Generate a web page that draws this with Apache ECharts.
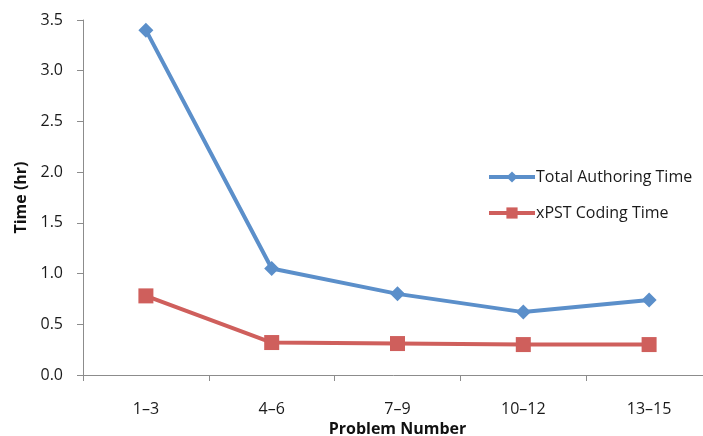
<!DOCTYPE html>
<html>
<head>
<meta charset="utf-8">
<script src="https://cdn.jsdelivr.net/npm/echarts@6/dist/echarts.min.js"></script>
<style>
  html, body { margin: 0; padding: 0; background: #fff; }
  #chart { width: 703px; height: 436px; }
</style>
</head>
<body>
<div id="chart"></div>
<script>
// Problem groups along the x axis
const categories = ['1–3', '4–6', '7–9', '10–12', '13–15'];
// Hours per group
const totalAuthoring = [3.40, 1.05, 0.80, 0.62, 0.74];
const xpstCoding = [0.78, 0.32, 0.31, 0.30, 0.30];
// Y axis range and step (hours)
const yMin = 0, yMax = 3.5, yStep = 0.5;

const FONT = '"Open Sans", sans-serif';
const chart = echarts.init(document.getElementById('chart'));

chart.setOption({
  animation: false,
  textStyle: { fontFamily: FONT },
  // the x axis runs a little past the right edge of the canvas
  grid: { left: 83, top: 20, width: 629, height: 355, containLabel: false, outerBoundsMode: 'none' },
  legend: {
    orient: 'vertical',
    left: 482,
    top: 164,
    itemWidth: 46,
    itemHeight: 14,
    itemGap: 20,
    lineStyle: { width: 4 },
    textStyle: { fontFamily: FONT, fontSize: 16, color: '#1a1a1a', padding: [0, 0, 0, -4] },
    data: ['Total Authoring Time', 'xPST Coding Time']
  },
  xAxis: {
    type: 'category',
    data: categories,
    boundaryGap: true,
    name: 'Problem Number',
    nameLocation: 'middle',
    nameGap: 46,
    nameTextStyle: { fontFamily: FONT, fontSize: 16, fontWeight: 'bold', color: '#111' },
    axisLine: { lineStyle: { color: '#8c8c8c', width: 1 } },
    axisTick: { show: true, length: 6, lineStyle: { color: '#8c8c8c' } },
    axisLabel: { fontFamily: FONT, fontSize: 16, color: '#1a1a1a', margin: 26 }
  },
  yAxis: {
    type: 'value',
    min: yMin,
    max: yMax,
    interval: yStep,
    name: 'Time (hr)',
    nameLocation: 'middle',
    nameGap: 51,
    nameRotate: 90,
    nameTextStyle: { fontFamily: FONT, fontSize: 16, fontWeight: 'bold', color: '#111' },
    axisLine: { show: true, lineStyle: { color: '#8c8c8c', width: 1 } },
    axisTick: { show: true, length: 6, lineStyle: { color: '#8c8c8c' } },
    splitLine: { show: false },
    axisLabel: {
      fontFamily: FONT, fontSize: 16, color: '#1a1a1a', margin: 20,
      formatter: v => v.toFixed(1)
    }
  },
  series: [
    {
      name: 'Total Authoring Time',
      type: 'line',
      data: totalAuthoring,
      symbol: 'diamond',
      symbolSize: 15,
      itemStyle: { color: '#5b8fca' },
      lineStyle: { color: '#5b8fca', width: 4 }
    },
    {
      name: 'xPST Coding Time',
      type: 'line',
      data: xpstCoding,
      symbol: 'rect',
      symbolSize: 15,
      itemStyle: { color: '#cf5f5c' },
      lineStyle: { color: '#cf5f5c', width: 4 }
    }
  ]
});
</script>
</body>
</html>
